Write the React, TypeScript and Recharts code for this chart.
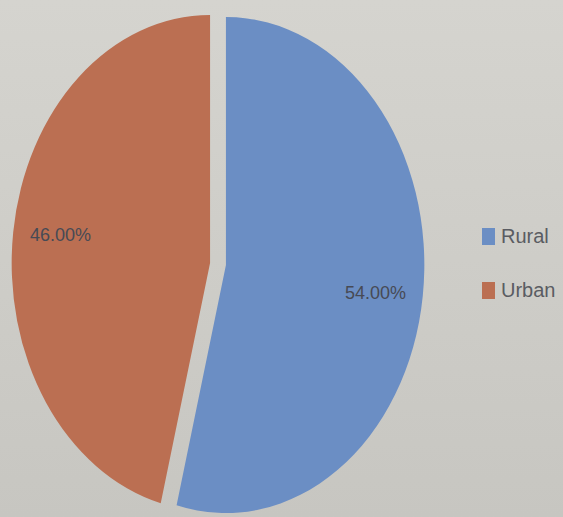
import { PieChart, Pie, Cell, Legend, Sector } from "recharts";

const categories = ["Rural", "Urban"];
const shares = [54, 46];
const colors = ["#6b8ec4", "#bb6f52"];

const data = categories.map((name, i) => ({ name, value: shares[i] }));

// the photo squashes the pie horizontally, and both slices are pulled apart
const SCALE_X = 0.8;
const EXPLODE = 8;
const RADIAN = Math.PI / 180;

function offsetFor(midAngle: number) {
  return {
    dx: EXPLODE * Math.cos(-midAngle * RADIAN),
    dy: EXPLODE * Math.sin(-midAngle * RADIAN),
  };
}

function SliceShape(props: any) {
  const { cx, cy, midAngle } = props;
  const { dx, dy } = offsetFor(midAngle);
  return (
    <g
      transform={`translate(${cx + dx} ${cy + dy}) scale(${SCALE_X} 1) translate(${-cx} ${-cy})`}
    >
      <Sector {...props} stroke="none" />
    </g>
  );
}

function SliceLabel(props: any) {
  const { cx, cy, midAngle, outerRadius, percent } = props;
  const { dx, dy } = offsetFor(midAngle);
  const r = outerRadius * 0.76;
  const x = cx + dx + r * Math.cos(-midAngle * RADIAN) * SCALE_X;
  const y = cy + dy + r * Math.sin(-midAngle * RADIAN) * 1.2;
  return (
    <text
      x={x}
      y={y}
      textAnchor="middle"
      dominantBaseline="central"
      fill="#474a55"
      fontSize={18}
      fontFamily="'Liberation Sans', sans-serif"
    >
      {`${(percent * 100).toFixed(2)}%`}
    </text>
  );
}

function LegendBox() {
  return (
    <div style={{ fontFamily: "'Liberation Sans', sans-serif" }}>
      {data.map((d, i) => (
        <div
          key={d.name}
          style={{
            display: "flex",
            alignItems: "center",
            height: 28,
            marginBottom: 26,
            fontSize: 20,
            color: "#5a5c62",
          }}
        >
          <span
            style={{
              display: "inline-block",
              width: 13,
              height: 17,
              background: colors[i],
              marginRight: 6,
            }}
          />
          {d.name}
        </div>
      ))}
    </div>
  );
}

export default function App() {
  return (
    <div
      style={{
        position: "absolute",
        left: 0,
        top: 0,
        width: 563,
        height: 517,
        background: "linear-gradient(to bottom, #d5d4cf, #c7c6c1)",
      }}
    >
      <PieChart width={563} height={517} margin={{ top: 0, right: 0, bottom: 0, left: 0 }}>
        <Pie
          data={data}
          dataKey="value"
          nameKey="name"
          cx={218}
          cy={264}
          outerRadius={248}
          startAngle={90}
          endAngle={-270}
          stroke="none"
          shape={SliceShape}
          label={SliceLabel}
          labelLine={false}
          isAnimationActive={false}
        >
          {data.map((d, i) => (
            <Cell key={d.name} fill={colors[i]} />
          ))}
        </Pie>
        <Legend
          content={<LegendBox />}
          wrapperStyle={{ position: "absolute", left: 482, top: 222, width: 90 }}
        />
      </PieChart>
    </div>
  );
}
